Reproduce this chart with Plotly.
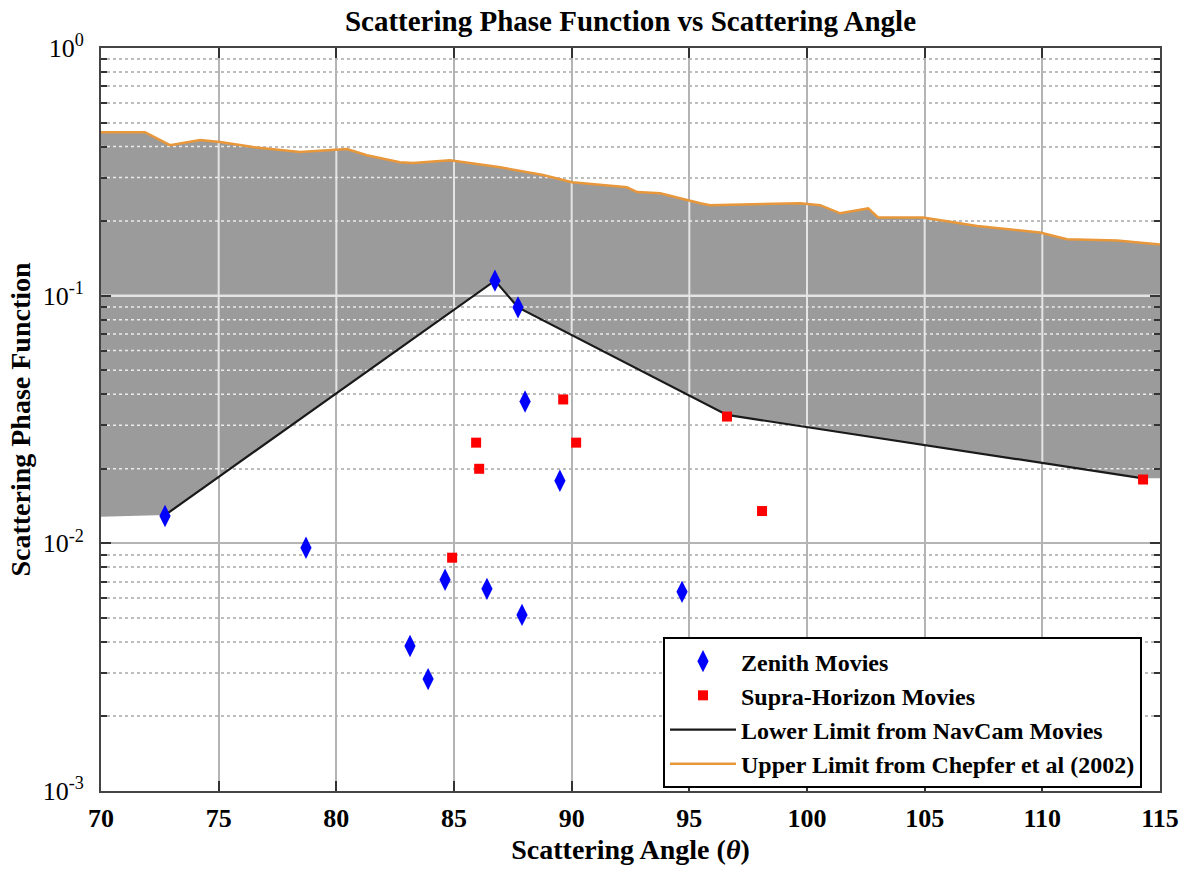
import numpy as np
import plotly.graph_objects as go

# ---------------- data ----------------
zenith_x = [72.72, 78.71, 86.74, 87.72, 88.02, 89.50, 84.62, 86.40, 87.89, 83.13, 83.90, 94.69]
zenith_y = [0.0129, 0.0096, 0.115, 0.0897, 0.0374, 0.0179, 0.00713, 0.00655, 0.00514, 0.00385, 0.00283, 0.00637]

supra_x = [84.92, 85.94, 86.07, 89.64, 90.19, 96.60, 98.09, 114.28]
supra_y = [0.00875, 0.0255, 0.0200, 0.0381, 0.0255, 0.0325, 0.0135, 0.0181]

lower_x = [72.72, 86.74, 87.72, 96.60, 114.28]
lower_y = [0.0130, 0.115, 0.0897, 0.0330, 0.0183]

upper_x = [70.0, 71.87, 72.93, 74.21, 75.06, 76.46, 78.46, 80.45, 81.30, 82.70, 83.26, 84.83,
           86.96, 88.78, 90.02, 92.35, 92.78, 93.76, 95.46, 95.88, 99.71, 100.56, 101.41,
           102.26, 102.60, 103.02, 104.93, 107.23, 109.90, 111.05, 113.18, 115.0]
upper_y = [0.457, 0.457, 0.405, 0.425, 0.417, 0.398, 0.380, 0.391, 0.369, 0.346, 0.343, 0.352,
           0.330, 0.307, 0.287, 0.274, 0.262, 0.259, 0.236, 0.232, 0.236, 0.232, 0.215,
           0.221, 0.225, 0.207, 0.207, 0.191, 0.180, 0.169, 0.167, 0.161]

x_ticks = [70, 75, 80, 85, 90, 95, 100, 105, 110, 115]
y_ticks = [1e-3, 1e-2, 1e-1, 1e0]
y_ticktext = ["10<sup>-3</sup>", "10<sup>-2</sup>", "10<sup>-1</sup>", "10<sup>0</sup>"]
minor_mult = [2, 3, 4, 5, 6, 7, 8, 9]

x_range = [70, 115]

# ---------------- derived ----------------
fill_lo_x = [x_range[0]] + lower_x + [x_range[1]]
fill_lo_y = [0.0128] + lower_y + [lower_y[-1]]
band_x = fill_lo_x + upper_x[::-1]
band_y = fill_lo_y + upper_y[::-1]

minor_vals = [m * d for d in y_ticks[:-1] for m in minor_mult]


def log_interp(xq, xs, ys):
    return 10 ** np.interp(xq, xs, np.log10(ys))


# grid overlay segments lying inside the gray band (MATLAB grid is drawn over the patch)
vx, vy = [], []
for xv in x_ticks[1:-1]:
    vx += [xv, xv, None]
    vy += [float(log_interp(xv, fill_lo_x, fill_lo_y)), float(log_interp(xv, upper_x, upper_y)), None]

samp = np.linspace(x_range[0], x_range[1], 4501)
lo_s = log_interp(samp, fill_lo_x, fill_lo_y)
up_s = log_interp(samp, upper_x, upper_y)


def hsegs(vals):
    hx, hy = [], []
    for v in vals:
        mask = (lo_s <= v) & (up_s >= v)
        idx = np.where(mask)[0]
        if len(idx) == 0:
            continue
        runs = np.split(idx, np.where(np.diff(idx) > 1)[0] + 1)
        for r in runs:
            hx += [float(samp[r[0]]), float(samp[r[-1]]), None]
            hy += [v, v, None]
    return hx, hy


mjx, mjy = hsegs(y_ticks[1:-1])
mnx, mny = hsegs(minor_vals)

FONT = "Liberation Serif"

fig = go.Figure()

fig.add_trace(go.Scatter(x=band_x, y=band_y, fill="toself", fillcolor="#9b9b9b",
                         line=dict(width=0), mode="lines", showlegend=False, hoverinfo="skip"))
fig.add_trace(go.Scatter(x=vx, y=vy, mode="lines", line=dict(color="#e4e4e4", width=2),
                         showlegend=False, hoverinfo="skip"))
fig.add_trace(go.Scatter(x=mjx, y=mjy, mode="lines", line=dict(color="#e4e4e4", width=2.5),
                         showlegend=False, hoverinfo="skip"))
fig.add_trace(go.Scatter(x=mnx, y=mny, mode="lines", line=dict(color="#ececec", width=1.5, dash="3px,3px"),
                         showlegend=False, hoverinfo="skip"))

fig.add_trace(go.Scatter(x=lower_x, y=lower_y, mode="lines", name="Lower Limit from NavCam Movies",
                         line=dict(color="#1a1a1a", width=2.2), legendrank=3))
fig.add_trace(go.Scatter(x=upper_x, y=upper_y, mode="lines", name="Upper Limit from Chepfer et al (2002)",
                         line=dict(color="#E8973A", width=2.5), legendrank=4))
fig.add_trace(go.Scatter(x=zenith_x, y=zenith_y, mode="markers", name="Zenith Movies",
                         marker=dict(symbol="diamond-tall", size=16, color="#0000ff"), legendrank=1))
fig.add_trace(go.Scatter(x=supra_x, y=supra_y, mode="markers", name="Supra-Horizon Movies",
                         marker=dict(symbol="square", size=10, color="#ff0000"), legendrank=2))

fig.update_layout(
    width=1187, height=871,
    margin=dict(l=101, r=27, t=48, b=80, autoexpand=False),
    paper_bgcolor="white", plot_bgcolor="white",
    font=dict(family=FONT, color="black"),
    title=dict(text="<b>Scattering Phase Function vs Scattering Angle</b>",
               x=0.5, xref="paper", xanchor="center", y=1 - 21 / 871, yref="container",
               yanchor="middle", font=dict(size=29, family=FONT, color="black")),
    legend=dict(x=0.983, y=0.004, xanchor="right", yanchor="bottom",
                bgcolor="white", bordercolor="black", borderwidth=2,
                font=dict(size=24, family=FONT, color="black", weight="bold"), tracegroupgap=0,
                itemwidth=66),
    showlegend=True,
)

fig.update_xaxes(
    range=x_range, tickvals=x_ticks, ticks="inside", ticklen=10, tickwidth=1.5, tickcolor="#333",
    showline=True, linewidth=2, linecolor="#444", mirror="allticks",
    showgrid=True, gridcolor="#b4b4b4", gridwidth=1.5, zeroline=False,
    tickfont=dict(size=26, family=FONT, weight="bold"), ticklabelstandoff=3,
    title=dict(text="<b>Scattering Angle (<i>θ</i>)</b>", font=dict(size=28, family=FONT), standoff=7),
)
fig.update_yaxes(
    type="log", range=[-3, 0], tickvals=y_ticks, ticktext=y_ticktext,
    ticks="inside", ticklen=10, tickwidth=1.5, tickcolor="#333",
    showline=True, linewidth=2, linecolor="#444", mirror="allticks",
    showgrid=True, gridcolor="#b4b4b4", gridwidth=2, zeroline=False,
    minor=dict(tickvals=minor_vals, ticks="inside", ticklen=6, tickcolor="#333",
               showgrid=True, gridcolor="#bdbdbd", gridwidth=1.5, griddash="3px,3px"),
    tickfont=dict(size=26, family=FONT), ticklabelstandoff=10,
    title=dict(text="<b>Scattering Phase Function</b>", font=dict(size=28, family=FONT), standoff=4),
)

fig.write_html("out.html")
